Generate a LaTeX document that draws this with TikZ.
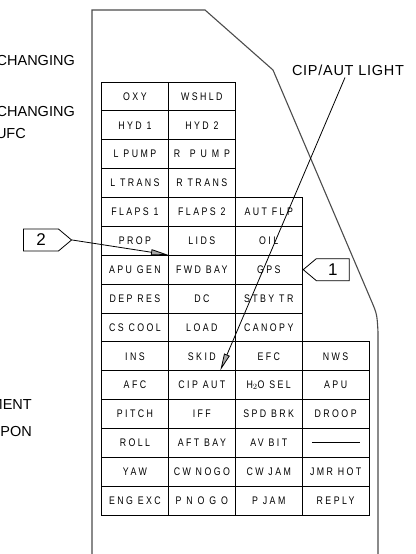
\documentclass[tikz,border=0pt]{standalone}
\usepackage{fontspec}
\setmainfont{Liberation Sans}
\newfontfamily\cadfont[LetterSpace=22,FakeStretch=0.8]{Liberation Sans}
\newfontfamily\notefont[LetterSpace=5]{Liberation Sans}
\usetikzlibrary{arrows.meta,positioning,shapes.symbols}

\begin{document}
\begin{tikzpicture}[x=1pt, y=-1pt,
    cell/.style={draw, line width=0.8pt, minimum width=66.9pt, minimum height=28.87pt, inner sep=0pt, font=\cadfont\fontsize{11}{12}\selectfont},
    note/.style={anchor=east, inner sep=0pt, font=\fontsize{14.5}{16}\selectfont},
    callout/.style={draw, line width=0.8pt, shape=signal, signal pointer angle=80, minimum height=22pt, inner sep=0pt, font=\fontsize{17}{18}\selectfont},
    arrow/.style={-{Triangle[length=17pt,width=6pt,fill=black!35]}, line width=0.8pt}
  ]
    \useasboundingbox (0,0) rectangle (415,554);
    \clip (0,0) rectangle (415,554);
    % panel outline
    \draw[line width=1.1pt, black!70] (92,560) -- (92,10) -- (205,10) -- (273,70) -- (371,300)
      .. controls (377,314) .. (378,332) -- (378,560);
    % caution lights
    \foreach [count=\r] \rowlist in {{OXY,WSHLD},{HYD 1,HYD 2},{L PUMP,R\ \ P U M P},{L TRANS,R TRANS},
        {FLAPS 1,FLAPS 2,AUT FLP},{PROP,LIDS,OIL},{APU GEN,FWD BAY,GPS},{DEP RES,DC,STBY TR},
        {CS COOL,LOAD,CANOPY},{INS,SKID,EFC,NWS},{AFC,CIP AUT,H$_2$O SEL,APU},{PITCH,IFF,SPD BRK,DROOP},
        {ROLL,AFT BAY,AV BIT,{}},{YAW,CW NOGO,CW JAM,JMR HOT},{ENG EXC,P N O G O,P JAM,REPLY}}
      \foreach [count=\c] \lbl in \rowlist
        \node[cell] (c-\r-\c) at ({101.5+66.9*(\c-0.5)},{82+28.87*(\r-0.5)}) {\lbl};
    \draw[line width=0.8pt] ([xshift=10pt]c-13-4.west) -- ([xshift=-10pt]c-13-4.east);
    % callouts
    \node[callout, signal to=east, minimum width=48pt] (two) at (41,240) {2};
    \node[callout, signal to=west, minimum width=46pt, anchor=west] (one) at (c-7-3.east) {1};
    \draw[arrow] (two.east) -- (c-7-2.north west);
    \node[font=\notefont\fontsize{14.5}{16}\selectfont, inner sep=2pt] (light) at (348,70) {CIP/AUT LIGHT};
    \draw[arrow] ([xshift=-3pt]light.south) -- ([xshift=18.5pt]c-11-2.north);
    % notes cut at the left edge
    \node[note] (chg1) at (75,61) {CHANGING};
    \node[note] (chg2) at (75,112) {CHANGING};
    \node[note] (ufc) at (26,134) {UFC};
    \node[note] (ment) at (32,405) {MENT};
    \node[note] (pon) at (32,432) {PON};
  \end{tikzpicture}
\end{document}
